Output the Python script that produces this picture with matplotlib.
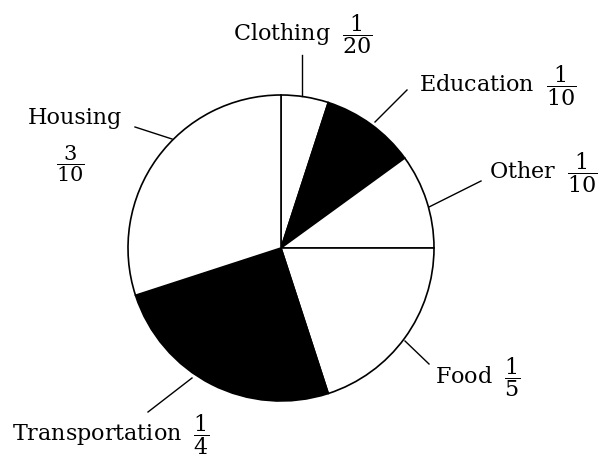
import matplotlib.pyplot as plt

plt.rcParams["font.family"] = "DejaVu Serif"
plt.rcParams["mathtext.fontset"] = "dejavuserif"

categories = ["Clothing", "Education", "Other", "Food", "Transportation", "Housing"]
numer = [1, 1, 1, 1, 1, 3]
denom = [20, 10, 10, 5, 4, 10]
fills = ["white", "black", "white", "white", "black", "white"]
values = [n / d for n, d in zip(numer, denom)]

W, H = 598, 463
fig = plt.figure(figsize=(W / 100, H / 100), dpi=100)
ax = fig.add_axes([0, 0, 1, 1])


def py(y):
    # pixel row from top -> data y
    return H - y


ax.pie(values, colors=fills, startangle=90, counterclock=False,
       center=(281, py(248)), radius=153, frame=True,
       wedgeprops=dict(edgecolor="black", linewidth=1.2))
ax.set_xlim(0, W)
ax.set_ylim(0, H)
ax.set_aspect("equal")
ax.axis("off")

# leader lines (pixel coords, label end -> rim)
leaders = {
    "Clothing": ((302, 55), (302, 96)),
    "Education": ((407, 90), (375, 122)),
    "Other": ((481, 181), (429, 207)),
    "Food": ((429, 364), (405, 341)),
    "Transportation": ((148, 412), (192, 378)),
    "Housing": ((135, 127), (172, 139)),
}
for name, (p0, p1) in leaders.items():
    ax.plot([p0[0], p1[0]], [py(p0[1]), py(p1[1])], color="black", lw=1.0)

fs = 16
label_pos = {
    "Clothing": (233, 34),
    "Education": (419, 86),
    "Other": (489, 173),
    "Food": (435, 377),
    "Transportation": (12, 435),
}
for name, n, d in zip(categories, numer, denom):
    if name == "Housing":
        ax.text(75, py(118), name, ha="center", va="center", fontsize=fs)
        ax.text(70, py(164), r"$\dfrac{%d}{%d}$" % (n, d),
                ha="center", va="center", fontsize=fs - 1)
    else:
        x, y = label_pos[name]
        ax.text(x, py(y), name + r" $\;\dfrac{%d}{%d}$" % (n, d),
                ha="left", va="center", fontsize=fs)

fig.savefig("out.png", dpi=100)
